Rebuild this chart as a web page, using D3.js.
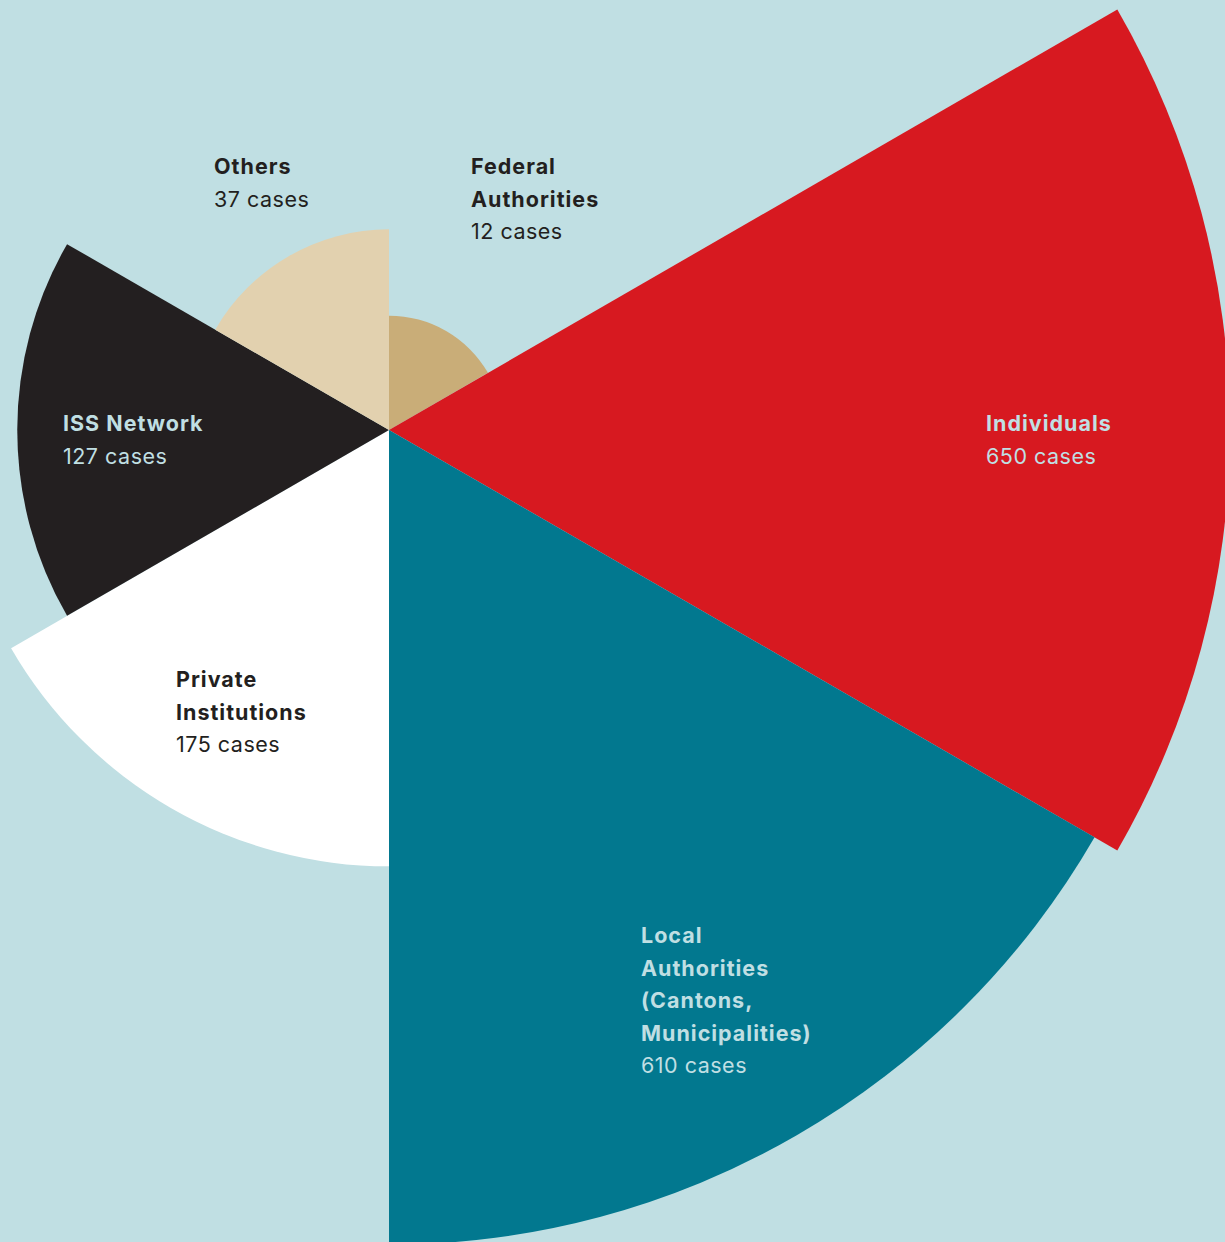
<!DOCTYPE html>
<html lang="en">
<head>
    <meta charset="UTF-8">
    <script src="https://d3js.org/d3.v7.min.js"></script>
    <title>Cases by source</title>
    <style>
        body { margin: 0; background: #C0DFE3; }
        svg { display: block; }
    </style>
</head>
<body>
    <div id="my_dataviz"></div>
</body>
<script>
    // data, clockwise from the top
    const categories = ["Federal Authorities", "Individuals", "Local Authorities (Cantons, Municipalities)", "Private Institutions", "ISS Network", "Others"];
    const cases = [12, 650, 610, 175, 127, 37];
    const nameLines = [["Federal", "Authorities"], ["Individuals"], ["Local", "Authorities", "(Cantons,", "Municipalities)"], ["Private", "Institutions"], ["ISS Network"], ["Others"]];
    const colors = ["#C9AD78", "#D71920", "#02788F", "#FFFFFF", "#231F20", "#E2D1AF"];
    const labelColors = ["#231F20", "#C0DFE3", "#C0DFE3", "#231F20", "#C0DFE3", "#231F20"];

    // label anchor (first line baseline) for each slice
    const labelPos = [[471, 174], [986, 431], [641, 943], [176, 687], [63, 431], [214, 174]];

    const width = 1225, height = 1242;
    const cx = 389, cy = 430;
    const lineH = 32.5;

    let svg = d3.select("#my_dataviz").append("svg")
                .attr("width", width)
                .attr("height", height);

    svg.append("rect")
       .attr("width", width)
       .attr("height", height)
       .style("fill", "#C0DFE3");

    //radius ~ sqrt of cases (area proportional)
    let r = d3.scaleSqrt().domain([0, 650]).range([0, 841]);

    let angle = d3.scaleBand().domain(categories).range([0, 2 * Math.PI]);

    let arc = d3.arc()
        .innerRadius(0)
        .outerRadius(function (d, i) { return r(cases[i]); })
        .startAngle(function (d) { return angle(d); })
        .endAngle(function (d) { return angle(d) + angle.bandwidth(); });

    let g = svg.append("g").attr("transform", "translate(" + cx + "," + cy + ")");

    g.selectAll("path").data(categories).enter()
     .append("path")
     .attr("d", function (d, i) { return arc(d, i); })
     .style("fill", function (d, i) { return colors[i]; });

    //labels
    let labels = svg.append("g")
        .style("font-family", "Inter, 'Open Sans', sans-serif")
        .style("font-size", "21.5px")
        .style("letter-spacing", "0.5px");

    categories.forEach(function (c, i) {
        let t = labels.append("text")
            .attr("x", labelPos[i][0])
            .attr("y", labelPos[i][1])
            .style("fill", labelColors[i]);
        nameLines[i].forEach(function (line, j) {
            t.append("tspan")
             .attr("x", labelPos[i][0])
             .attr("dy", j === 0 ? 0 : lineH)
             .style("font-weight", 700)
             .style("letter-spacing", "1px")
             .text(line);
        });
        t.append("tspan")
         .attr("x", labelPos[i][0])
         .attr("dy", lineH)
         .text(cases[i] + " cases");
    });
</script>
</html>
